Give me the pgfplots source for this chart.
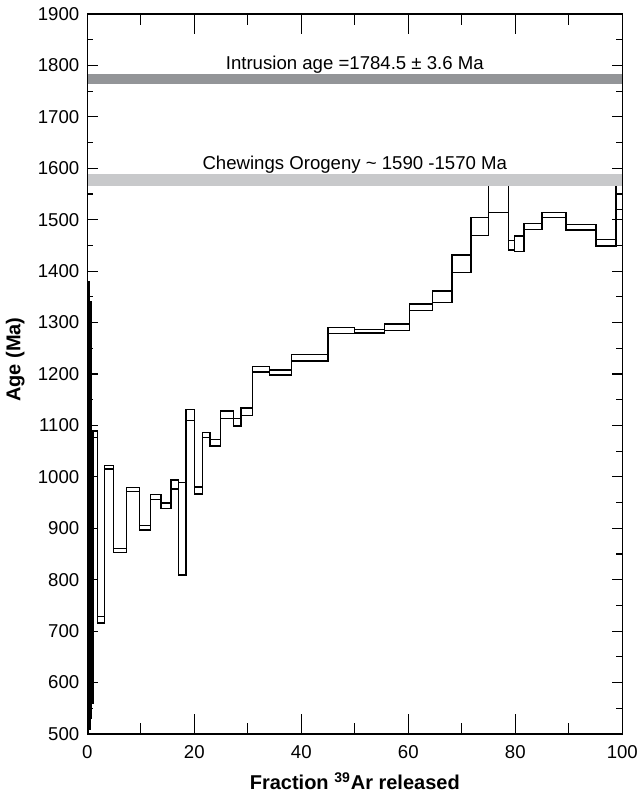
\documentclass[border=0pt]{standalone}
\usepackage{fontspec}
\setmainfont{Liberation Sans}
\usepackage{pgfplots}
\usepackage{pgfplotstable}
\pgfplotsset{compat=1.18}
\definecolor{bandA}{RGB}{147,149,152}
\definecolor{bandB}{RGB}{200,201,203}

% step spectrum: cumulative 39Ar fraction start/end, age lower/upper (Ma)
\pgfplotstableread{
x0 x1 lo hi
0.00 0.10 470 1380
0.10 0.22 500 1250
0.22 0.35 540 1380
0.35 0.48 510 1300
0.48 0.60 550 1200
0.60 0.72 530 1340
0.72 0.82 560 1150
0.82 1.05 560 572
1.05 1.87 1076 1089
1.87 3.18 716 728
3.18 4.86 1015 1022
4.86 7.36 853 861
7.36 9.72 972 979
9.72 11.85 897 905
11.85 13.78 956 966
13.78 15.65 938 949
15.65 17.00 976 994
17.00 18.45 809 989
18.45 20.00 1110 1131
20.00 21.50 967 980
21.50 22.90 1077 1086
22.90 24.90 1060 1073
24.90 27.30 1114 1128
27.30 28.70 1099 1114
28.70 30.90 1119 1134
30.90 34.00 1204 1214
34.00 38.20 1198 1208
38.20 45.00 1225 1238
45.00 49.90 1279 1290
49.90 55.50 1280 1287
55.50 60.20 1284 1297
60.20 64.50 1323 1336
64.50 68.20 1339 1361
68.20 71.70 1397 1431
71.70 75.00 1469 1504
75.00 78.70 1514 1580
78.70 79.90 1441 1460
79.90 81.60 1438 1468
81.60 85.00 1481 1493
85.00 89.50 1504 1514
89.50 95.10 1480 1491
95.10 98.80 1449 1462
98.80 100.00 1520 1580
}\steps
\pgfplotstablegetrowsof{\steps}
\pgfmathtruncatemacro\N{\pgfplotsretval-1}

\begin{document}
\begin{tikzpicture}
\pgfplotsset{every axis/.append style={
  scale only axis, width=267.5pt, height=360pt,
  xmin=0, xmax=100, ymin=500, ymax=1900,
  at={(0,0)}, anchor=south west,
  tick align=inside,
  axis line style={line width=0.6pt},
  every tick/.style={line width=0.6pt, black},
  /pgf/number format/assume math mode=true,
  /pgf/number format/1000 sep={},
  tick label style={font=\fontsize{9.3}{11}\selectfont},
}}
% x ticks (longer)
\begin{axis}[
  xtick={0,20,...,100}, minor x tick num=1,
  ytick=\empty,
  major tick length=10pt, minor tick length=5.5pt,
  xticklabel style={yshift=-2.3pt},
]
\end{axis}
% y ticks and data
\begin{axis}[
  axis on top,
  xtick=\empty,
  ytick={500,600,...,1900}, minor y tick num=1,
  major tick length=5.3pt, minor tick length=3pt,
  yticklabel style={xshift=-0.5pt},
  clip mode=individual,
  xlabel={Fraction \textsuperscript{39}Ar released},
  ylabel={Age (Ma)},
  xlabel style={font=\bfseries\fontsize{10}{12}\selectfont, at={(axis description cs:0.5,-0.0653)}, anchor=center},
  ylabel style={font=\bfseries\fontsize{10}{12}\selectfont, at={(axis description cs:-0.1346,0.52)}, anchor=center},
]
\pgfplotsinvokeforeach{0,...,\N}{
  \pgfplotstablegetelem{#1}{x0}\of\steps \edef\xa{\pgfplotsretval}
  \pgfplotstablegetelem{#1}{x1}\of\steps \edef\xb{\pgfplotsretval}
  \pgfplotstablegetelem{#1}{lo}\of\steps \edef\ya{\pgfplotsretval}
  \pgfplotstablegetelem{#1}{hi}\of\steps \edef\yb{\pgfplotsretval}
  \edef\temp{\noexpand\addplot[black, line width=0.7pt, forget plot] coordinates {(\xa,\ya) (\xb,\ya) (\xb,\yb) (\xa,\yb) (\xa,\ya)};}
  \temp
}
\addplot[const plot, black, line width=0.7pt, forget plot] table[x=x0, y=hi] {\steps};
\addplot[const plot, black, line width=0.7pt, forget plot] table[x=x0, y=lo] {\steps};
% reference bands
\addplot[fill=bandA, draw=none, forget plot] coordinates {(0,1764) (100,1764) (100,1783) (0,1783)} -- cycle;
\addplot[fill=bandB, draw=none, forget plot] coordinates {(0,1565) (100,1565) (100,1588) (0,1588)} -- cycle;
\node[anchor=base, font=\fontsize{9.3}{11}\selectfont] at (axis cs:50,1793) {Intrusion age =1784.5 ± 3.6 Ma};
\node[anchor=base, font=\fontsize{9.3}{11}\selectfont] at (axis cs:50,1598) {Chewings Orogeny \textasciitilde{} 1590 -1570 Ma};
\end{axis}
\pgfresetboundingbox
\useasboundingbox (-43.65pt,-31pt) rectangle (276.35pt,367pt);
\end{tikzpicture}
\end{document}
